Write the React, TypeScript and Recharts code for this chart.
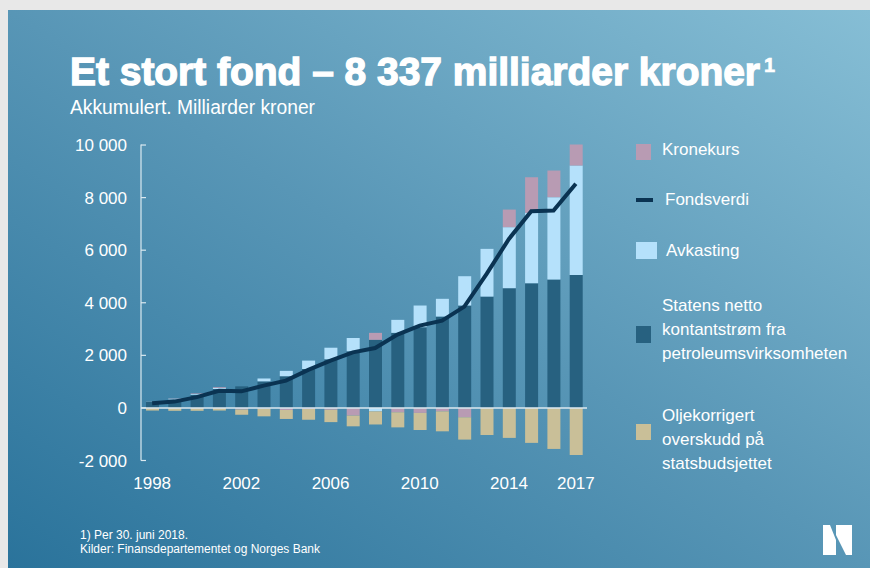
import { ComposedChart, Bar, Line, XAxis, YAxis, ReferenceLine } from 'recharts';

const years = ['1998', '1999', '2000', '2001', '2002', '2003', '2004', '2005', '2006', '2007',
  '2008', '2009', '2010', '2011', '2012', '2013', '2014', '2015', '2016', '2017'];
const shownYears = ['1998', '2002', '2006', '2010', '2014', '2017'];

// Statens netto kontantstrøm fra petroleumsvirksomheten
const kontantstrom = [250, 320, 500, 720, 820, 1010, 1205, 1480, 1850, 2155,
  2590, 2855, 3070, 3475, 3895, 4235, 4555, 4745, 4885, 5060];
const avkasting = [10, 30, 30, 40, 0, 110, 205, 320, 440, 505,
  -130, 495, 825, 675, 1115, 1815, 2320, 2675, 3130, 4160];
const kronekurs = [0, 10, 20, 30, -60, -20, -80, -40, -70, -290,
  265, -165, -190, -130, -355, 0, 670, 1355, 1015, 800];
const oljekorrigert = [-100, -110, -110, -100, -200, -300, -340, -410, -470, -410,
  -500, -575, -650, -760, -850, -1030, -1140, -1330, -1560, -1790];
const fondsverdi = [180, 240, 410, 650, 630, 850, 1040, 1445, 1800, 2115,
  2280, 2790, 3130, 3320, 3855, 5100, 6430, 7485, 7510, 8525];

const yTicks = [-2000, 0, 2000, 4000, 6000, 8000, 10000];

const data = years.map((year, i) => ({
  year,
  stat: kontantstrom[i],
  avk: avkasting[i],
  kron: kronekurs[i],
  olje: oljekorrigert[i],
  fond: fondsverdi[i],
}));

const DARK = '#276180';
const LIGHT = '#b5e1fb';
const PINK = '#b89bb3';
const TAN = '#c9bf98';
const NAVY = '#0a3352';
const FONT = "'Liberation Sans', Arial, sans-serif";

const fmt = (v: number) => {
  const s = Math.abs(v).toString().replace(/\B(?=(\d{3})+(?!\d))/g, ' ');
  return v < 0 ? '-' + s : s;
};

const legendText = { position: 'absolute' as const, color: '#fff', fontSize: 17, lineHeight: '24px', fontFamily: FONT };
const swatch = (x: number, y: number, w: number, h: number, c: string) => (
  <div style={{ position: 'absolute', left: x, top: y, width: w, height: h, background: c }} />
);

export default function App() {
  return (
    <div style={{ position: 'absolute', left: 0, top: 0, width: 870, height: 568, background: '#e8e8e8', overflow: 'hidden', fontFamily: FONT }}>
      <div style={{ position: 'absolute', left: 8, top: 10, width: 862, height: 558, background: 'linear-gradient(to top right, #2a739b 0%, #5896b6 50%, #86bed5 100%)' }} />

      <svg width={870} height={130} style={{ position: 'absolute', left: 0, top: 0 }}>
        <text x={70} y={85} fill="#fff" stroke="#fff" strokeWidth={1.3} fontSize={38} fontWeight="bold" fontFamily={FONT}
          textLength={690} lengthAdjust="spacingAndGlyphs">
          Et stort fond – 8 337 milliarder kroner
        </text>
        <text x={764} y={72} fill="#fff" stroke="#fff" strokeWidth={0.6} fontSize={20} fontWeight="bold" fontFamily={FONT}>1</text>
        <text x={70} y={114} fill="#fff" fontSize={20} fontFamily={FONT} textLength={245} lengthAdjust="spacingAndGlyphs">
          Akkumulert. Milliarder kroner
        </text>
      </svg>

      <div style={{ position: 'absolute', left: 0, top: 0 }}>
        <ComposedChart width={600} height={500} data={data} stackOffset="sign"
          margin={{ top: 144.5, right: 13, bottom: 9.5, left: 60 }}>
          <XAxis dataKey="year" interval={0} axisLine={false} tickLine={false} tickMargin={10}
            tickFormatter={(v: string) => (shownYears.includes(v) ? v : '')}
            tick={{ fill: '#fff', fontSize: 17, fontFamily: FONT }} height={30} />
          <YAxis width={81} domain={[-2000, 10000]} ticks={yTicks} tickFormatter={fmt}
            axisLine={{ stroke: '#dbe9f0', strokeWidth: 1.2 }} tickLine={{ stroke: '#dbe9f0', strokeWidth: 1.2 }}
            tickSize={-5} tickMargin={19} tick={{ fill: '#fff', fontSize: 17, fontFamily: FONT }} />
          <Bar dataKey="stat" stackId="a" fill={DARK} barSize={13} isAnimationActive={false} />
          <Bar dataKey="avk" stackId="a" fill={LIGHT} barSize={13} isAnimationActive={false} />
          <Bar dataKey="kron" stackId="a" fill={PINK} barSize={13} isAnimationActive={false} />
          <Bar dataKey="olje" stackId="a" fill={TAN} barSize={13} isAnimationActive={false} />
          <ReferenceLine y={0} stroke="#dbe9f0" strokeWidth={1.5} />
          <Line dataKey="fond" type="linear" stroke={NAVY} strokeWidth={4} dot={false} isAnimationActive={false} />
        </ComposedChart>
      </div>

      {swatch(636, 144, 15, 16, PINK)}
      <div style={{ ...legendText, left: 662, top: 138 }}>Kronekurs</div>
      {swatch(636, 198, 17, 4, NAVY)}
      <div style={{ ...legendText, left: 665, top: 188 }}>Fondsverdi</div>
      {swatch(636, 242, 21, 17, LIGHT)}
      <div style={{ ...legendText, left: 666, top: 239 }}>Avkasting</div>
      {swatch(636, 326, 15, 17, DARK)}
      <div style={{ ...legendText, left: 662, top: 294 }}>Statens netto<br />kontantstrøm fra<br />petroleumsvirksomheten</div>
      {swatch(636, 424, 15, 16, TAN)}
      <div style={{ ...legendText, left: 662, top: 404 }}>Oljekorrigert<br />overskudd på<br />statsbudsjettet</div>

      <svg width={870} height={568} style={{ position: 'absolute', left: 0, top: 0, pointerEvents: 'none' }}>
        <text x={80} y={539} fill="#fff" fontSize={12} fontFamily={FONT} textLength={108} lengthAdjust="spacingAndGlyphs">1) Per 30. juni 2018.</text>
        <text x={80} y={553} fill="#fff" fontSize={12} fontFamily={FONT} textLength={240} lengthAdjust="spacingAndGlyphs">Kilder: Finansdepartementet og Norges Bank</text>
        <polygon points="823,525 830,525 836,540 836,555 823,555" fill="#fff" />
        <polygon points="836,525 852,525 852,555 846,555 836,535" fill="#fff" />
      </svg>
    </div>
  );
}
